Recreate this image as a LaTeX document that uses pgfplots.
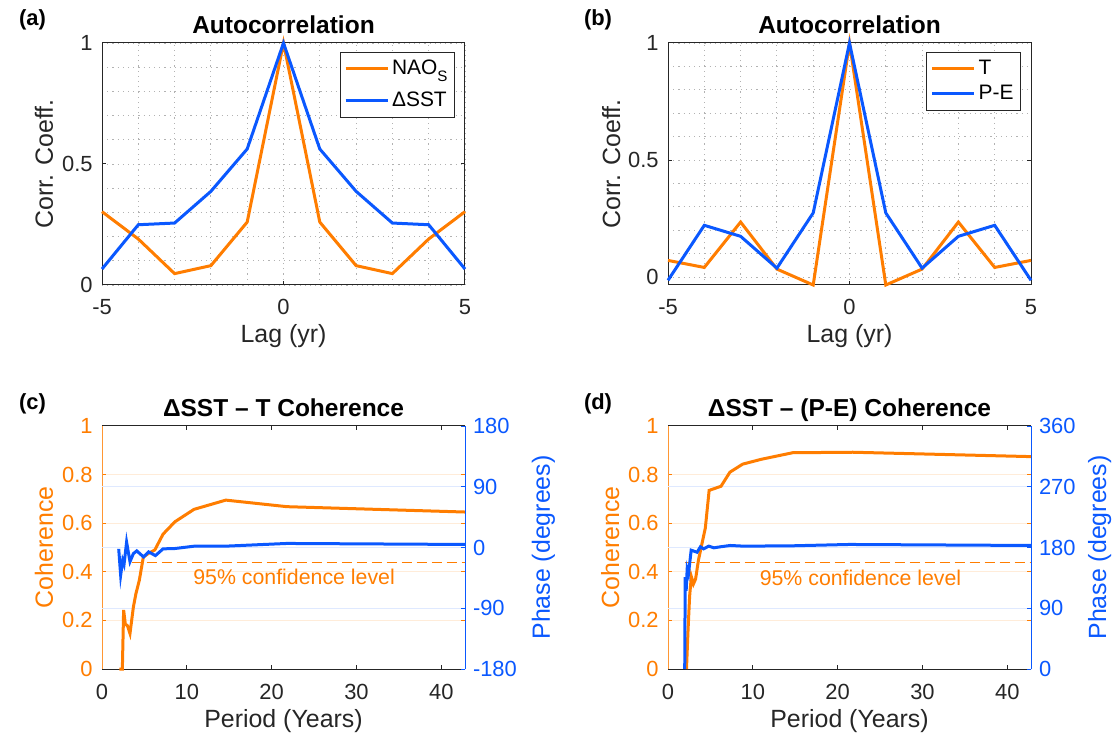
\documentclass[border=0pt]{standalone}
\usepackage{fontspec}
\setmainfont{Liberation Sans}
\usepackage{pgfplots}
\pgfplotsset{compat=1.18}
\definecolor{mo}{RGB}{255,125,0}
\definecolor{mb}{RGB}{10,88,255}
\definecolor{axc}{RGB}{38,38,38}
\pgfplotsset{
  base/.style={
    scale only axis, clip=false,
    font=\fontsize{11}{13}\selectfont,
    /pgf/number format/assume math mode=true,
    axis line style={line width=0.5bp},
    tick style={line width=0.5bp},
    major tick length=2bp, minor tick length=0pt,
    tick align=inside,
    ticklabel style={font=\fontsize{11}{13}\selectfont},
    xticklabel style={anchor=base, yshift=-15bp, text=axc},
    label style={font=\fontsize{12.5}{15}\selectfont, text=axc},
    every axis title/.style={at={(0.5,1)}, anchor=base, yshift=4.6bp, font=\bfseries\fontsize{12.3}{15}\selectfont},
    xlabel style={at={(axis description cs:0.5,-0.236)}, anchor=base},
    every axis plot/.append style={line width=1.5bp},
  },
  lefty/.style={
    yticklabel style={anchor=east, inner sep=0pt, xshift=-4.5bp},
    ylabel style={at={(axis description cs:-0.135,0.5)}, anchor=base},
  },
  acorr/.style={
    base, lefty,
    axis line style={draw=axc}, tick style={draw=axc},
    yticklabel style={text=axc},
    xmin=-5, xmax=5, xtick={-5,0,5}, ytick={0,0.5,1},
    minor x tick num=4, minor y tick num=4,
    grid=both,
    grid style={line width=0.45bp, black!30, dash pattern=on 0.6bp off 2bp},
    major grid style={line width=0.45bp, black!30, dash pattern=on 0.6bp off 2bp},
    minor grid style={line width=0.45bp, black!30, dash pattern=on 0.6bp off 2bp},
    legend style={at={(0.9725,0.963)}, anchor=north east, draw=axc, line width=0.5bp,
      fill=white, inner sep=2bp, font=\fontsize{10.5}{12}\selectfont,
      nodes={inner sep=1.5bp, text height=7.6bp, text depth=1.9bp}},
    legend cell align=left,
    legend image code/.code={\draw[##1] (0bp,0bp) -- (21bp,0bp);},
    title={Autocorrelation}, xlabel={Lag (yr)}, ylabel={Corr. Coeff.},
  },
  cohl/.style={
    base, lefty,
    width=181.5bp, height=121.5bp,
    xmin=0, xmax=42.8, ymin=0, ymax=1,
    xtick={0,10,20,30,40}, ytick={0,0.2,0.4,0.6,0.8,1},
    separate axis lines,
    x axis line style={draw=axc}, y axis line style={draw=mo!80},
    xtick style={draw=axc}, ytick style={draw=mo},
    yticklabel style={text=mo}, yticklabel pos=left,
    ymajorgrids, major grid style={mo!15, line width=0.5bp},
    extra y ticks={0.25,0.5,0.75}, extra y tick labels={,,},
    extra y tick style={major tick length=0pt, ymajorgrids=true, major grid style={mb!13, line width=0.5bp}},
    xlabel={Period (Years)}, ylabel={Coherence}, ylabel style={text=mo},
    xlabel style={at={(axis description cs:0.5,-0.239)}},
  },
  cohr/.style={
    base,
    width=181.5bp, height=121.5bp,
    xmin=0, xmax=42.8,
    axis x line=none, axis y line*=right,
    y axis line style={draw=mb},
    ytick style={draw=mb},
    yticklabel style={text=mb, anchor=west, inner sep=0pt, xshift=3.8bp},
    ylabel={Phase (degrees)},
    ylabel style={text=mb, anchor=base},
  },
}
\begin{document}
\begin{tikzpicture}
\useasboundingbox (0,0) rectangle (557bp,368.5bp);

% (a)
\begin{axis}[acorr, at={(51bp,226bp)}, anchor=south west, width=181.5bp, height=121bp,
  ymin=0, ymax=1, legend style={row sep=3.5bp}]
\addplot[mo] coordinates {(-5,0.303) (-4,0.19) (-3,0.047) (-2,0.08) (-1,0.26) (0,1) (1,0.26) (2,0.08) (3,0.047) (4,0.19) (5,0.303)};
\addlegendentry{NAO\raisebox{-3.6bp}{\fontsize{7.6}{8}\selectfont S}}
\addplot[mb] coordinates {(-5,0.066) (-4,0.249) (-3,0.256) (-2,0.387) (-1,0.562) (0,1) (1,0.562) (2,0.387) (3,0.256) (4,0.249) (5,0.066)};
\addlegendentry{ΔSST}
\end{axis}

% (b)
\begin{axis}[acorr, at={(334bp,226bp)}, anchor=south west, width=181.5bp, height=121bp,
  ymin=-0.034, ymax=1, ylabel style={at={(axis description cs:-0.132,0.5)}}]
\addplot[mo] coordinates {(-5,0.071) (-4,0.041) (-3,0.235) (-2,0.034) (-1,-0.034) (0,1) (1,-0.034) (2,0.034) (3,0.235) (4,0.041) (5,0.071)};
\addlegendentry{T}
\addplot[mb] coordinates {(-5,-0.014) (-4,0.221) (-3,0.174) (-2,0.038) (-1,0.274) (0,1) (1,0.274) (2,0.038) (3,0.174) (4,0.221) (5,-0.014)};
\addlegendentry{P-E}
\end{axis}

% (c)
\begin{axis}[cohl, at={(51bp,34bp)}, anchor=south west, title={ΔSST – T Coherence}]
\addplot[mo, line width=0.6bp, dash pattern=on 5bp off 2.5bp] coordinates {(3.5,0.438) (42.8,0.438)};
\addplot[mo] coordinates {(2.05,0) (2.40,0) (2.55,0.243) (2.75,0.185) (3.0,0.178) (3.3,0.146) (3.70,0.255) (4.0,0.31) (4.4,0.365) (4.87,0.46) (5.45,0.475) (6.23,0.49) (7.2,0.555) (8.6,0.606) (10.85,0.657) (14.6,0.695) (21.8,0.668) (42.8,0.646)};
\node[anchor=base, text=mo, font=\fontsize{10.7}{12}\selectfont] at (axis cs:22.65,0.346) {95\% confidence level};
\end{axis}
\begin{axis}[cohr, at={(51bp,34bp)}, anchor=south west, ymin=-180, ymax=180,
  ytick={-180,-90,0,90,180}, ylabel style={at={(axis description cs:1.234,0.5)}}]
\addplot[mb] coordinates {(1.97,-2) (2.2,-41) (2.44,-19) (2.6,-25) (2.9,8) (3.3,-21) (3.7,-9) (4.1,-5) (4.9,-14) (5.5,-6.5) (6.3,-12) (7.2,-2) (8.6,-1.5) (10.9,2) (14.6,2) (21.8,6) (42.8,4.5)};
\end{axis}

% (d)
\begin{axis}[cohl, at={(334bp,34bp)}, anchor=south west, title={ΔSST – (P-E) Coherence}]
\addplot[mo, line width=0.6bp, dash pattern=on 5bp off 2.5bp] coordinates {(1.95,0.438) (42.8,0.438)};
\addplot[mo] coordinates {(2.18,0) (2.35,0.15) (2.55,0.30) (2.75,0.38) (3.0,0.35) (3.25,0.37) (3.6,0.45) (4.0,0.515) (4.4,0.58) (4.85,0.735) (6.25,0.752) (7.3,0.81) (8.8,0.843) (11.0,0.863) (14.7,0.89) (21.8,0.892) (42.8,0.874)};
\node[anchor=base, text=mo, font=\fontsize{10.7}{12}\selectfont] at (axis cs:22.7,0.345) {95\% confidence level};
\end{axis}
\begin{axis}[cohr, at={(334bp,34bp)}, anchor=south west, ymin=0, ymax=360,
  ytick={0,90,180,270,360}, ylabel style={at={(axis description cs:1.207,0.5)}}]
\addplot[mb] coordinates {(1.97,0) (2.03,136) (2.14,116) (2.26,148) (2.42,141) (2.73,176) (3.43,173) (3.82,181) (4.2,178) (4.8,182) (5.4,179.5) (6.16,181) (7.33,183) (8.9,182) (14.6,182.5) (21.4,184.5) (42.8,183)};
\end{axis}

% panel labels
\node[anchor=base west, font=\bfseries\fontsize{11}{13}\selectfont] at (6bp,355.75bp) {(a)};
\node[anchor=base west, font=\bfseries\fontsize{11}{13}\selectfont] at (288.5bp,355.75bp) {(b)};
\node[anchor=base west, font=\bfseries\fontsize{11}{13}\selectfont] at (6bp,163.5bp) {(c)};
\node[anchor=base west, font=\bfseries\fontsize{11}{13}\selectfont] at (288.5bp,163.5bp) {(d)};
\end{tikzpicture}
\end{document}
